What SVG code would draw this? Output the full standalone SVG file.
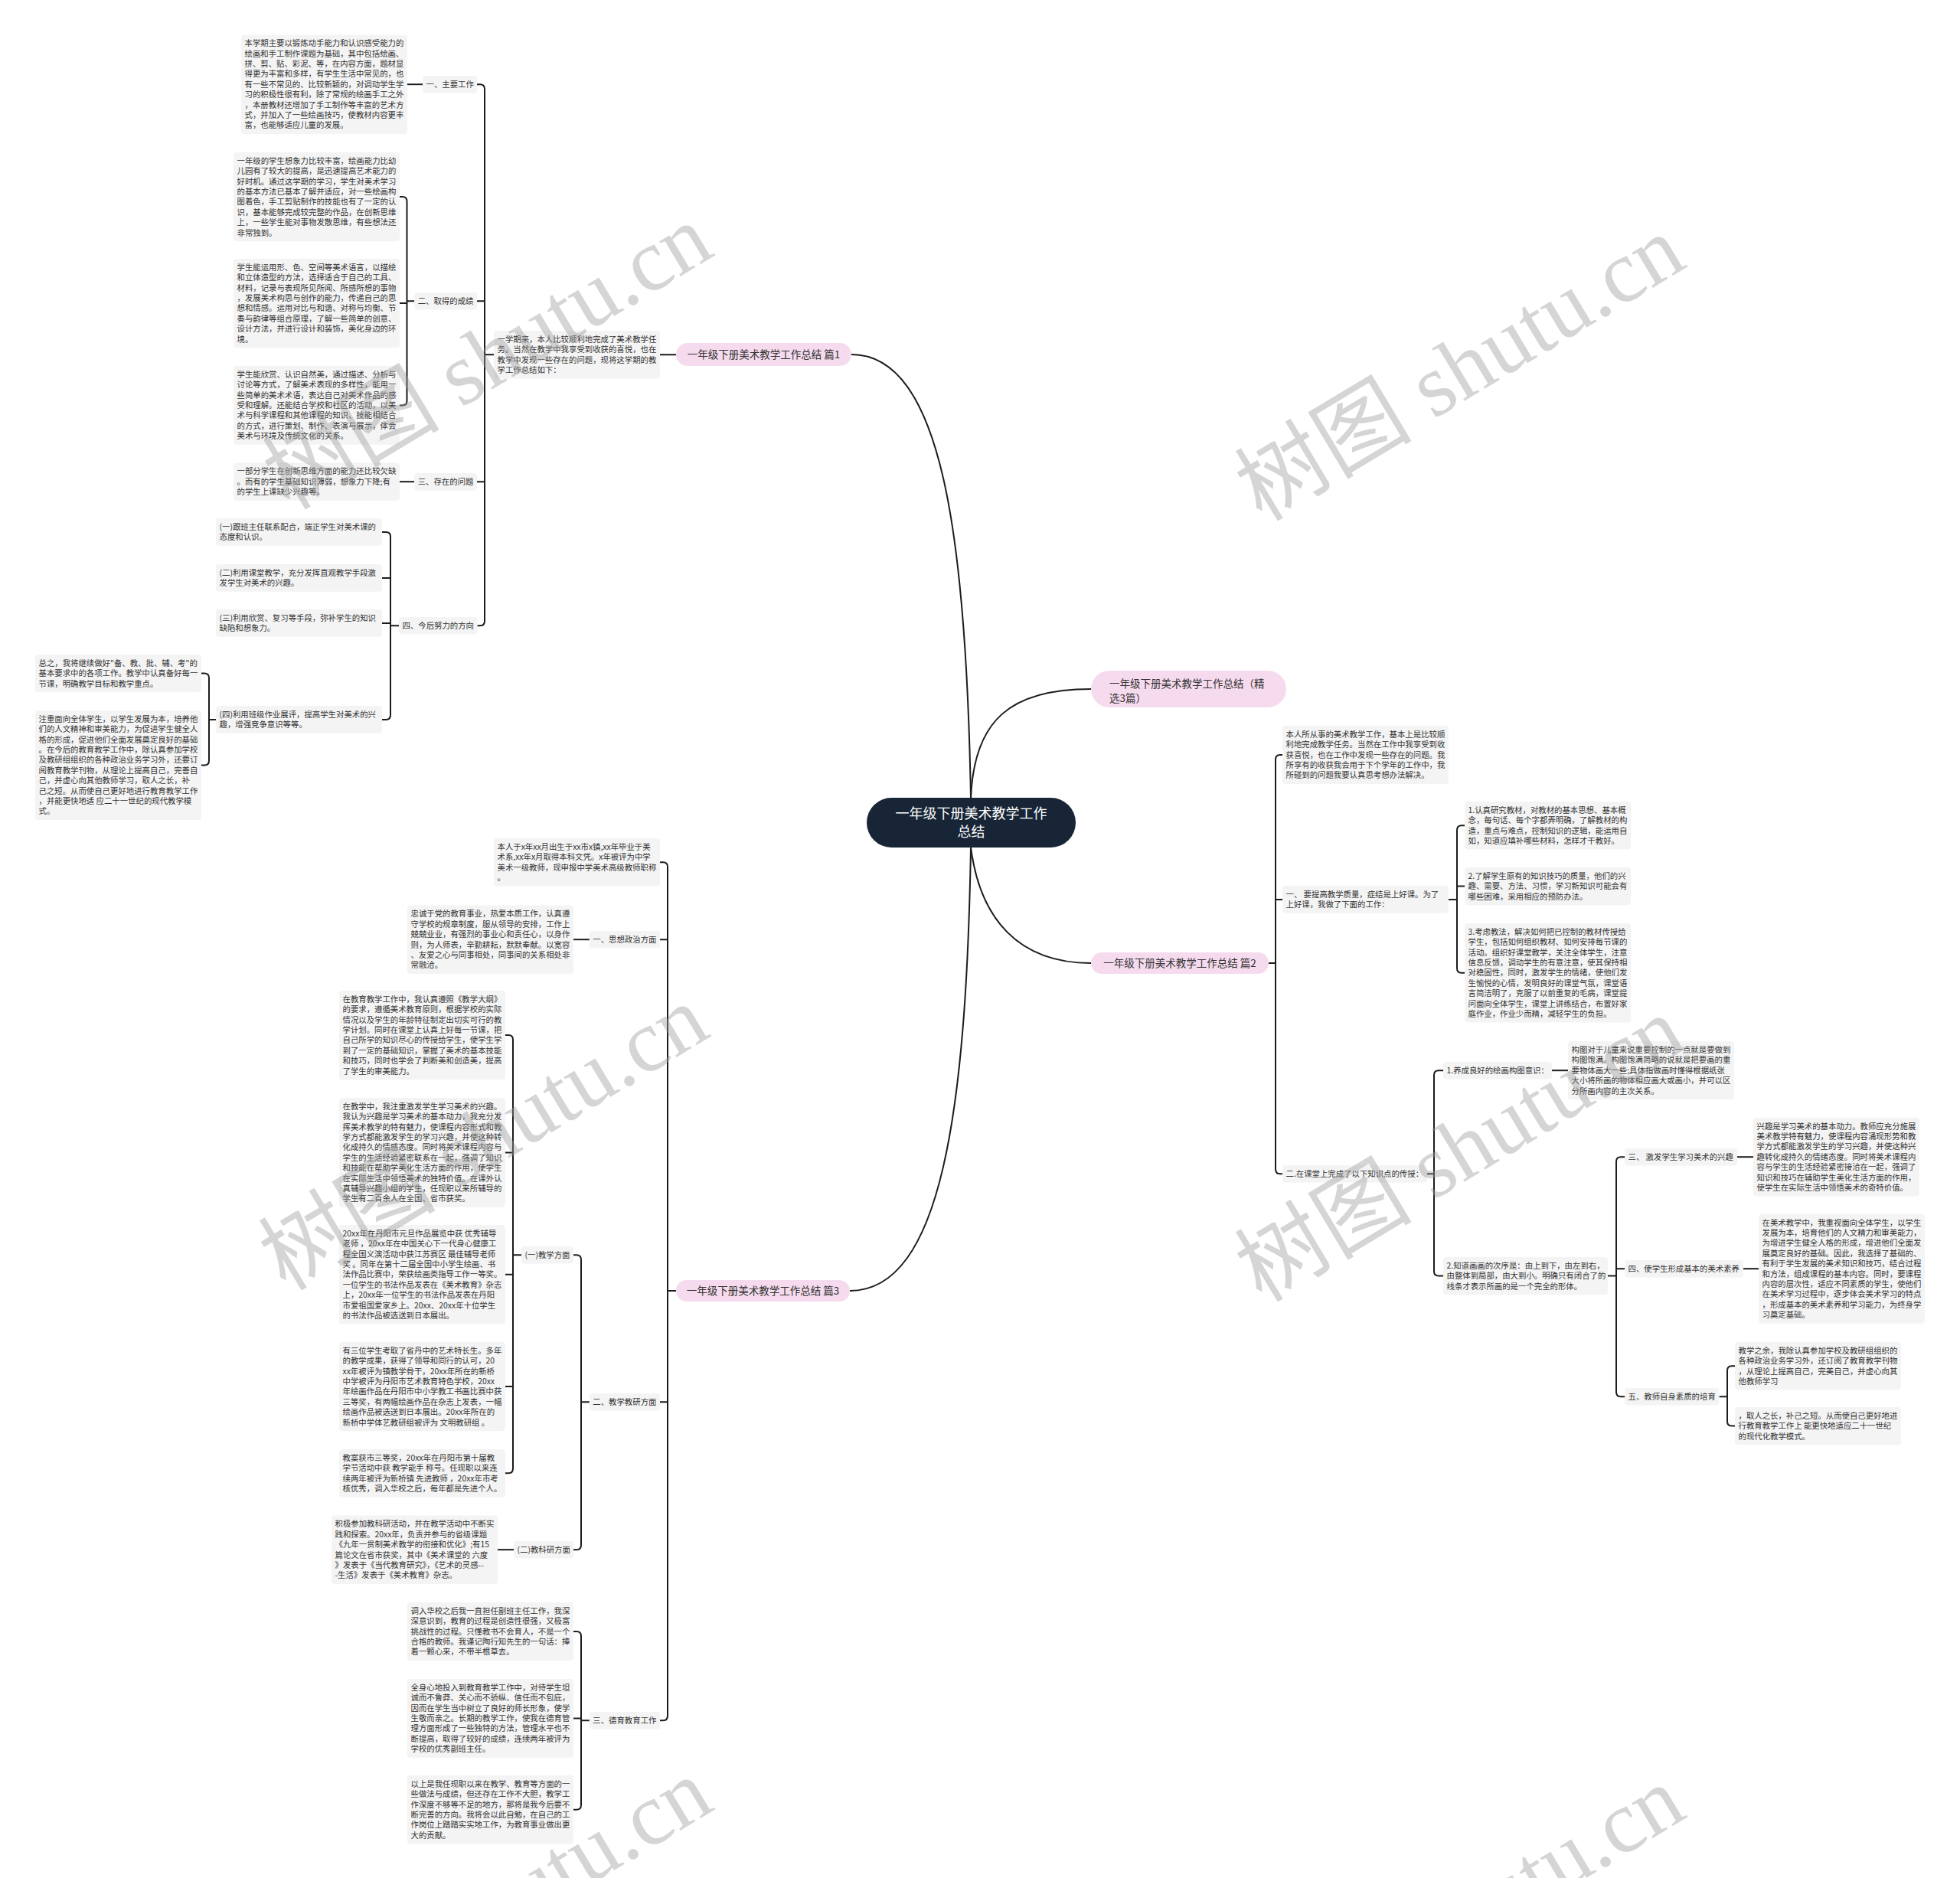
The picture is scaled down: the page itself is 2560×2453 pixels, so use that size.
<svg xmlns="http://www.w3.org/2000/svg" width="2560" height="2453" viewBox="0 0 2560 2453">
<style>
.t{font-family:"Noto Sans CJK SC","Liberation Sans",sans-serif;font-size:10.4px;fill:#333}
.b{fill:#f4f4f4}
.br{font-family:"Noto Sans CJK SC","Liberation Sans",sans-serif;font-size:13.5px;fill:#333}
.pk{fill:#f6dbee}
.ln{fill:none;stroke:#1c1c1c;stroke-width:2}
.wm{font-family:"Liberation Serif","Noto Sans CJK SC",serif;font-size:116px;fill:#9a9a9a;fill-opacity:0.42}
</style>
<rect width="2560" height="2453" fill="#ffffff"/>
<g id="connectors">
<path class="ln" d="M1268,1043 C1262,700 1230,463 1112,463"/>
<path class="ln" d="M1268,1107 C1262,1450 1230,1686 1110,1686"/>
<path class="ln" d="M1268,1043 C1272,940 1320,900 1425,900"/>
<path class="ln" d="M1268,1107 C1280,1200 1330,1258 1425,1258"/>
<path class="ln" d="M862,463.3 H883"/>
<path class="ln" d="M623,110.2 H627 Q633,110.2 633,116.2 V811.2 Q633,817.2 627,817.2 H623 M623,393.2 H633 M623,629.2 H633 M633,463.3 H645"/>
<path class="ln" d="M532,110.2 H552"/>
<path class="ln" d="M522,257.1 H525.5 Q531.5,257.1 531.5,263.1 V523.4 Q531.5,529.4 525.5,529.4 H522 M522,396.1 H531.5 M531.5,393.2 H541.2"/>
<path class="ln" d="M522,629.2 H541.2"/>
<path class="ln" d="M499,694.9 H504 Q510,694.9 510,700.9 V933.9 Q510,939.9 504,939.9 H499 M499,754.9 H510 M499,813.9 H510 M510,817.2 H521"/>
<path class="ln" d="M263,879.6 H267 Q273,879.6 273,885.6 V993.5 Q273,999.5 267,999.5 H263 M273,939.9 H282"/>
<path class="ln" d="M862,1126.3 H866 Q872,1126.3 872,1132.3 V2241.2 Q872,2247.2 866,2247.2 H862 M862,1227.2 H872 M862,1831.2 H872 M872,1686 H883"/>
<path class="ln" d="M749,1227.2 H770"/>
<path class="ln" d="M749,1639.2 H753 Q759,1639.2 759,1645.2 V2018.2 Q759,2024.2 753,2024.2 H749 M759,1831.2 H770"/>
<path class="ln" d="M660,1352.1 H664 Q670,1352.1 670,1358.1 V1918.3 Q670,1924.3 664,1924.3 H660 M660,1505.5 H670 M660,1664.8 H670 M660,1811.1 H670 M670,1639.2 H681"/>
<path class="ln" d="M650,2024.2 H671"/>
<path class="ln" d="M749,2131 H753 Q759,2131 759,2137 V2357.7 Q759,2363.7 753,2363.7 H749 M749,2244.4 H759 M759,2247.2 H770"/>
<path class="ln" d="M1675,986 H1672 Q1666,986 1666,992 V1527.2 Q1666,1533.2 1672,1533.2 H1675 M1666,1174.9 H1675 M1657,1258 H1666"/>
<path class="ln" d="M1913,1078.3 H1909 Q1903,1078.3 1903,1084.3 V1264.8 Q1903,1270.8 1909,1270.8 H1913 M1903,1157.6 H1913 M1892,1174.9 H1903"/>
<path class="ln" d="M1885,1398.2 H1879 Q1873,1398.2 1873,1404.2 V1660.6 Q1873,1666.6 1879,1666.6 H1885 M1864,1533.2 H1873"/>
<path class="ln" d="M2027,1398.2 H2048"/>
<path class="ln" d="M2122,1511.2 H2117 Q2111,1511.2 2111,1517.2 V1818.2 Q2111,1824.2 2117,1824.2 H2122 M2111,1657.2 H2122 M2100,1666.6 H2111"/>
<path class="ln" d="M2269,1511.2 H2290"/>
<path class="ln" d="M2277,1657.2 H2297"/>
<path class="ln" d="M2266,1784.3 H2262 Q2256,1784.3 2256,1790.3 V1856.6 Q2256,1862.6 2262,1862.6 H2266 M2245.4,1824.2 H2256"/>
</g>
<g id="root"><rect x="1132" y="1042" width="273" height="65" rx="32.5" fill="#172536"/><text x="1268.5" y="1069.3" text-anchor="middle" font-family="Noto Sans CJK SC, sans-serif" font-size="18" fill="#fff">一年级下册美术教学工作<tspan x="1268.5" dy="24">总结</tspan></text></g>
<g id="br1"><rect class="pk" x="883" y="448" width="229" height="30" rx="15"/><text class="br" x="997.5" y="467.7" text-anchor="middle">一年级下册美术教学工作总结 篇1</text></g>
<g id="br0"><rect class="pk" x="1425" y="876" width="255" height="48" rx="24"/><text class="br" x="1449" y="897.7">一年级下册美术教学工作总结（精<tspan x="1449" dy="19">选3篇）</tspan></text></g>
<g id="br2"><rect class="pk" x="1425" y="1244" width="232" height="28" rx="14"/><text class="br" x="1541" y="1262.7" text-anchor="middle">一年级下册美术教学工作总结 篇2</text></g>
<g id="br3"><rect class="pk" x="883" y="1672" width="227" height="28" rx="14"/><text class="br" x="996.5" y="1690.7" text-anchor="middle">一年级下册美术教学工作总结 篇3</text></g>

<g id="n1-intro"><rect class="b" x="645" y="432" width="217" height="62.6" rx="4"/><text class="t" x="649.5" y="446.8">一学期来，本人比较顺利地完成了美术教学任<tspan x="649.5" dy="13.4">务。当然在教学中我享受到收获的喜悦，也在</tspan><tspan x="649.5" dy="13.4">教学中发现一些存在的问题，现将这学期的教</tspan><tspan x="649.5" dy="13.4">学工作总结如下：</tspan></text></g>
<g id="n1-a"><rect class="b" x="552" y="99" width="71" height="22.4" rx="4"/><text class="t" x="556.5" y="113.8">一、主要工作</text></g>
<g id="n1-a1"><rect class="b" x="315" y="45.4" width="217" height="129.6" rx="4"/><text class="t" x="319.5" y="60.2">本学期主要以锻炼动手能力和认识感受能力的<tspan x="319.5" dy="13.4">绘画和手工制作课题为基础，其中包括绘画、</tspan><tspan x="319.5" dy="13.4">拼、剪、贴、彩泥、等，在内容方面，题材显</tspan><tspan x="319.5" dy="13.4">得更为丰富和多样，有学生生活中常见的，也</tspan><tspan x="319.5" dy="13.4">有一些不常见的、比较新颖的，对调动学生学</tspan><tspan x="319.5" dy="13.4">习的积极性很有利，除了常规的绘画手工之外</tspan><tspan x="319.5" dy="13.4">，本册教材还增加了手工制作等丰富的艺术方</tspan><tspan x="319.5" dy="13.4">式，并加入了一些绘画技巧，使教材内容更丰</tspan><tspan x="319.5" dy="13.4">富，也能够适应儿童的发展。</tspan></text></g>
<g id="n1-b"><rect class="b" x="541.2" y="382" width="81.8" height="22.4" rx="4"/><text class="t" x="545.7" y="396.8">二、取得的成绩</text></g>
<g id="n1-b1"><rect class="b" x="305" y="199" width="217" height="116.2" rx="4"/><text class="t" x="309.5" y="213.8">一年级的学生想象力比较丰富，绘画能力比幼<tspan x="309.5" dy="13.4">儿园有了较大的提高，是迅速提高艺术能力的</tspan><tspan x="309.5" dy="13.4">好时机。通过这学期的学习，学生对美术学习</tspan><tspan x="309.5" dy="13.4">的基本方法已基本了解并适应，对一些绘画构</tspan><tspan x="309.5" dy="13.4">图着色，手工剪贴制作的技能也有了一定的认</tspan><tspan x="309.5" dy="13.4">识，基本能够完成较完整的作品，在创新思维</tspan><tspan x="309.5" dy="13.4">上，一些学生能对事物发散思维，有些想法还</tspan><tspan x="309.5" dy="13.4">非常独到。</tspan></text></g>
<g id="n1-b2"><rect class="b" x="305" y="338" width="217" height="116.2" rx="4"/><text class="t" x="309.5" y="352.8">学生能运用形、色、空间等美术语言，以描绘<tspan x="309.5" dy="13.4">和立体造型的方法，选择适合于自己的工具、</tspan><tspan x="309.5" dy="13.4">材料，记录与表现所见所闻、所感所想的事物</tspan><tspan x="309.5" dy="13.4">，发展美术构思与创作的能力，传递自己的思</tspan><tspan x="309.5" dy="13.4">想和情感。运用对比与和谐、对称与均衡、节</tspan><tspan x="309.5" dy="13.4">奏与韵律等组合原理，了解一些简单的创意、</tspan><tspan x="309.5" dy="13.4">设计方法，并进行设计和装饰，美化身边的环</tspan><tspan x="309.5" dy="13.4">境。</tspan></text></g>
<g id="n1-b3"><rect class="b" x="305" y="478" width="217" height="102.8" rx="4"/><text class="t" x="309.5" y="492.8">学生能欣赏、认识自然美，通过描述、分析与<tspan x="309.5" dy="13.4">讨论等方式，了解美术表现的多样性，能用一</tspan><tspan x="309.5" dy="13.4">些简单的美术术语，表达自己对美术作品的感</tspan><tspan x="309.5" dy="13.4">受和理解。还能结合学校和社区的活动，以美</tspan><tspan x="309.5" dy="13.4">术与科学课程和其他课程的知识、技能相结合</tspan><tspan x="309.5" dy="13.4">的方式，进行策划、制作、表演与展示，体会</tspan><tspan x="309.5" dy="13.4">美术与环境及传统文化的关系。</tspan></text></g>
<g id="n1-c"><rect class="b" x="541.2" y="618" width="81.8" height="22.4" rx="4"/><text class="t" x="545.7" y="632.8">三、存在的问题</text></g>
<g id="n1-c1"><rect class="b" x="305" y="604.6" width="217" height="49.2" rx="4"/><text class="t" x="309.5" y="619.4">一部分学生在创新思维方面的能力还比较欠缺<tspan x="309.5" dy="13.4">。而有的学生基础知识薄弱，想象力下降;有</tspan><tspan x="309.5" dy="13.4">的学生上课缺少兴趣等。</tspan></text></g>
<g id="n1-d"><rect class="b" x="521" y="806" width="102.6" height="22.4" rx="4"/><text class="t" x="525.5" y="820.8">四、今后努力的方向</text></g>
<g id="n1-d1"><rect class="b" x="282" y="677" width="217" height="35.8" rx="4"/><text class="t" x="286.5" y="691.8">(一)跟班主任联系配合，端正学生对美术课的<tspan x="286.5" dy="13.4">态度和认识。</tspan></text></g>
<g id="n1-d2"><rect class="b" x="282" y="737" width="217" height="35.8" rx="4"/><text class="t" x="286.5" y="751.8">(二)利用课堂教学，充分发挥直观教学手段激<tspan x="286.5" dy="13.4">发学生对美术的兴趣。</tspan></text></g>
<g id="n1-d3"><rect class="b" x="282" y="796" width="217" height="35.8" rx="4"/><text class="t" x="286.5" y="810.8">(三)利用欣赏、复习等手段，弥补学生的知识<tspan x="286.5" dy="13.4">缺陷和想象力。</tspan></text></g>
<g id="n1-d4"><rect class="b" x="282" y="922" width="217" height="35.8" rx="4"/><text class="t" x="286.5" y="936.8">(四)利用班级作业展评，提高学生对美术的兴<tspan x="286.5" dy="13.4">趣，增强竞争意识等等。</tspan></text></g>
<g id="n1-e1"><rect class="b" x="46" y="855" width="217" height="49.2" rx="4"/><text class="t" x="50.5" y="869.8">总之，我将继续做好"备、教、批、辅、考"的<tspan x="50.5" dy="13.4">基本要求中的各项工作。教学中认真备好每一</tspan><tspan x="50.5" dy="13.4">节课，明确教学目标和教学重点。</tspan></text></g>
<g id="n1-e2"><rect class="b" x="46" y="928" width="217" height="143" rx="4"/><text class="t" x="50.5" y="942.8">注重面向全体学生，以学生发展为本，培养他<tspan x="50.5" dy="13.4">们的人文精神和审美能力，为促进学生健全人</tspan><tspan x="50.5" dy="13.4">格的形成，促进他们全面发展奠定良好的基础</tspan><tspan x="50.5" dy="13.4">。在今后的教育教学工作中，除认真参加学校</tspan><tspan x="50.5" dy="13.4">及教研组组织的各种政治业务学习外，还要订</tspan><tspan x="50.5" dy="13.4">阅教育教学刊物，从理论上提高自己，完善自</tspan><tspan x="50.5" dy="13.4">己，并虚心向其他教师学习，取人之长，补</tspan><tspan x="50.5" dy="13.4">己之短。从而使自己更好地进行教育教学工作</tspan><tspan x="50.5" dy="13.4">，并能更快地适 应二十一世纪的现代教学模</tspan><tspan x="50.5" dy="13.4">式。</tspan></text></g>

<g id="n3-intro"><rect class="b" x="645" y="1095" width="217" height="62.6" rx="4"/><text class="t" x="649.5" y="1109.8">本人于x年xx月出生于xx市x镇,xx年毕业于美<tspan x="649.5" dy="13.4">术系,xx年x月取得本科文凭。x年被评为中学</tspan><tspan x="649.5" dy="13.4">美术一级教师，现申报中学美术高级教师职称</tspan><tspan x="649.5" dy="13.4">。</tspan></text></g>
<g id="n3-a"><rect class="b" x="769.8" y="1216" width="92.2" height="22.4" rx="4"/><text class="t" x="774.3" y="1230.8">一、思想政治方面</text></g>
<g id="n3-a1"><rect class="b" x="532" y="1182.5" width="217" height="89.4" rx="4"/><text class="t" x="536.5" y="1197.3">忠诚于党的教育事业，热爱本质工作，认真遵<tspan x="536.5" dy="13.4">守学校的规章制度，服从领导的安排，工作上</tspan><tspan x="536.5" dy="13.4">兢兢业业，有强烈的事业心和责任心，以身作</tspan><tspan x="536.5" dy="13.4">则，为人师表，辛勤耕耘，默默奉献。以宽容</tspan><tspan x="536.5" dy="13.4">、友爱之心与同事相处，同事间的关系相处非</tspan><tspan x="536.5" dy="13.4">常融洽。</tspan></text></g>
<g id="n3-b"><rect class="b" x="769.8" y="1820" width="92.2" height="22.4" rx="4"/><text class="t" x="774.3" y="1834.8">二、教学教研方面</text></g>
<g id="n3-b1"><rect class="b" x="681" y="1628" width="68" height="22.4" rx="4"/><text class="t" x="685.5" y="1642.8">(一)教学方面</text></g>
<g id="n3-h1"><rect class="b" x="443" y="1294" width="217" height="116.2" rx="4"/><text class="t" x="447.5" y="1308.8">在教育教学工作中，我认真遵照《教学大纲》<tspan x="447.5" dy="13.4">的要求，遵循美术教育原则，根据学校的实际</tspan><tspan x="447.5" dy="13.4">情况以及学生的年龄特征制定出切实可行的教</tspan><tspan x="447.5" dy="13.4">学计划。同时在课堂上认真上好每一节课，把</tspan><tspan x="447.5" dy="13.4">自己所学的知识尽心的传授给学生，使学生学</tspan><tspan x="447.5" dy="13.4">到了一定的基础知识，掌握了美术的基本技能</tspan><tspan x="447.5" dy="13.4">和技巧，同时也学会了判断美和创造美，提高</tspan><tspan x="447.5" dy="13.4">了学生的审美能力。</tspan></text></g>
<g id="n3-h2"><rect class="b" x="443" y="1434" width="217" height="143" rx="4"/><text class="t" x="447.5" y="1448.8">在教学中，我注重激发学生学习美术的兴趣。<tspan x="447.5" dy="13.4">我认为兴趣是学习美术的基本动力，我充分发</tspan><tspan x="447.5" dy="13.4">挥美术教学的特有魅力，使课程内容形式和教</tspan><tspan x="447.5" dy="13.4">学方式都能激发学生的学习兴趣，并使这种转</tspan><tspan x="447.5" dy="13.4">化成持久的情感态度。同时将美术课程内容与</tspan><tspan x="447.5" dy="13.4">学生的生活经验紧密联系在一起，强调了知识</tspan><tspan x="447.5" dy="13.4">和技能在帮助学美化生活方面的作用，使学生</tspan><tspan x="447.5" dy="13.4">在实际生活中领悟美术的独特价值。在课外认</tspan><tspan x="447.5" dy="13.4">真辅导兴趣小组的学生，任现职以来所辅导的</tspan><tspan x="447.5" dy="13.4">学生有二百余人在全国、省市获奖。</tspan></text></g>
<g id="n3-h3"><rect class="b" x="443" y="1600" width="217" height="129.6" rx="4"/><text class="t" x="447.5" y="1614.8">20xx年在丹阳市元旦作品展览中获 优秀辅导<tspan x="447.5" dy="13.4">老师 ，20xx年在中国关心下一代身心健康工</tspan><tspan x="447.5" dy="13.4">程全国义演活动中获江苏赛区 最佳辅导老师</tspan><tspan x="447.5" dy="13.4">奖 。同年在第十二届全国中小学生绘画、书</tspan><tspan x="447.5" dy="13.4">法作品比赛中，荣获绘画类指导工作一等奖。</tspan><tspan x="447.5" dy="13.4">一位学生的书法作品发表在《美术教育》杂志</tspan><tspan x="447.5" dy="13.4">上，20xx年一位学生的书法作品发表在丹阳</tspan><tspan x="447.5" dy="13.4">市爱祖国爱家乡上。20xx、20xx年十位学生</tspan><tspan x="447.5" dy="13.4">的书法作品被选送到日本展出。</tspan></text></g>
<g id="n3-h4"><rect class="b" x="443" y="1753" width="217" height="116.2" rx="4"/><text class="t" x="447.5" y="1767.8">有三位学生考取了省丹中的艺术特长生。多年<tspan x="447.5" dy="13.4">的教学成果，获得了领导和同行的认可，20</tspan><tspan x="447.5" dy="13.4">xx年被评为镇教学骨干，20xx年所在的新桥</tspan><tspan x="447.5" dy="13.4">中学被评为丹阳市艺术教育特色学校，20xx</tspan><tspan x="447.5" dy="13.4">年绘画作品在丹阳市中小学教工书画比赛中获</tspan><tspan x="447.5" dy="13.4">三等奖，有两幅绘画作品在杂志上发表，一幅</tspan><tspan x="447.5" dy="13.4">绘画作品被选送到日本展出。20xx年所在的</tspan><tspan x="447.5" dy="13.4">新桥中学体艺教研组被评为 文明教研组 。</tspan></text></g>
<g id="n3-h5"><rect class="b" x="443" y="1893" width="217" height="62.6" rx="4"/><text class="t" x="447.5" y="1907.8">教案获市三等奖，20xx年在丹阳市第十届教<tspan x="447.5" dy="13.4">学节活动中获 教学能手 称号。任现职以来连</tspan><tspan x="447.5" dy="13.4">续两年被评为新桥镇 先进教师 ，20xx年市考</tspan><tspan x="447.5" dy="13.4">核优秀，调入华校之后，每年都是先进个人。</tspan></text></g>
<g id="n3-b2"><rect class="b" x="671" y="2013" width="78" height="22.4" rx="4"/><text class="t" x="675.5" y="2027.8">(二)教科研方面</text></g>
<g id="n3-i1"><rect class="b" x="433" y="1979.5" width="217" height="89.4" rx="4"/><text class="t" x="437.5" y="1994.3">积极参加教科研活动，并在教学活动中不断实<tspan x="437.5" dy="13.4">践和探索。20xx年，负责并参与的省级课题</tspan><tspan x="437.5" dy="13.4">《九年一贯制美术教学的衔接和优化》;有15</tspan><tspan x="437.5" dy="13.4">篇论文在省市获奖，其中《美术课堂的 六度</tspan><tspan x="437.5" dy="13.4">》发表于《当代教育研究》，《艺术的灵感--</tspan><tspan x="437.5" dy="13.4">-生活》发表于《美术教育》杂志。</tspan></text></g>
<g id="n3-c"><rect class="b" x="769.8" y="2236" width="92.2" height="22.4" rx="4"/><text class="t" x="774.3" y="2250.8">三、德育教育工作</text></g>
<g id="n3-j1"><rect class="b" x="532" y="2093" width="217" height="76" rx="4"/><text class="t" x="536.5" y="2107.8">调入华校之后我一直担任副班主任工作，我深<tspan x="536.5" dy="13.4">深意识到，教育的过程是创造性很强，又极富</tspan><tspan x="536.5" dy="13.4">挑战性的过程。只懂教书不会育人，不是一个</tspan><tspan x="536.5" dy="13.4">合格的教师。我谨记陶行知先生的一句话：捧</tspan><tspan x="536.5" dy="13.4">着一颗心来，不带半根草去。</tspan></text></g>
<g id="n3-j2"><rect class="b" x="532" y="2193" width="217" height="102.8" rx="4"/><text class="t" x="536.5" y="2207.8">全身心地投入到教育教学工作中，对待学生坦<tspan x="536.5" dy="13.4">诚而不鲁莽、关心而不骄纵、信任而不包庇，</tspan><tspan x="536.5" dy="13.4">因而在学生当中树立了良好的师长形象，使学</tspan><tspan x="536.5" dy="13.4">生敬而亲之。长期的教学工作，使我在德育管</tspan><tspan x="536.5" dy="13.4">理方面形成了一些独特的方法，管理水平也不</tspan><tspan x="536.5" dy="13.4">断提高，取得了较好的成绩，连续两年被评为</tspan><tspan x="536.5" dy="13.4">学校的优秀副班主任。</tspan></text></g>
<g id="n3-j3"><rect class="b" x="532" y="2319" width="217" height="89.4" rx="4"/><text class="t" x="536.5" y="2333.8">以上是我任现职以来在教学、教育等方面的一<tspan x="536.5" dy="13.4">些做法与成绩，但还存在工作不大胆，教学工</tspan><tspan x="536.5" dy="13.4">作深度不够等不足的地方，那将是我今后要不</tspan><tspan x="536.5" dy="13.4">断完善的方向。我将会以此自勉，在自己的工</tspan><tspan x="536.5" dy="13.4">作岗位上踏踏实实地工作，为教育事业做出更</tspan><tspan x="536.5" dy="13.4">大的贡献。</tspan></text></g>

<g id="n2-intro"><rect class="b" x="1675" y="948" width="217" height="76" rx="4"/><text class="t" x="1679.5" y="962.8">本人所从事的美术教学工作，基本上是比较顺<tspan x="1679.5" dy="13.4">利地完成教学任务。当然在工作中我享受到收</tspan><tspan x="1679.5" dy="13.4">获喜悦，也在工作中发现一些存在的问题。我</tspan><tspan x="1679.5" dy="13.4">所享有的收获我会用于下个学年的工作中，我</tspan><tspan x="1679.5" dy="13.4">所碰到的问题我要认真思考想办法解决。</tspan></text></g>
<g id="n2-a"><rect class="b" x="1675" y="1157" width="217" height="35.8" rx="4"/><text class="t" x="1679.5" y="1171.8">一、 要提高教学质量，症结是上好课。为了<tspan x="1679.5" dy="13.4">上好课，我做了下面的工作：</tspan></text></g>
<g id="n2-l1"><rect class="b" x="1913" y="1047" width="217" height="62.6" rx="4"/><text class="t" x="1917.5" y="1061.8">1.认真研究教材，对教材的基本思想、基本概<tspan x="1917.5" dy="13.4">念，每句话、每个字都弄明确，了解教材的构</tspan><tspan x="1917.5" dy="13.4">造，重点与难点，控制知识的逻辑，能运用自</tspan><tspan x="1917.5" dy="13.4">如，知道应填补哪些材料，怎样才干教好。</tspan></text></g>
<g id="n2-l2"><rect class="b" x="1913" y="1133" width="217" height="49.2" rx="4"/><text class="t" x="1917.5" y="1147.8">2.了解学生原有的知识技巧的质量，他们的兴<tspan x="1917.5" dy="13.4">趣、需要、方法、习惯，学习新知识可能会有</tspan><tspan x="1917.5" dy="13.4">哪些困难，采用相应的预防办法。</tspan></text></g>
<g id="n2-l3"><rect class="b" x="1913" y="1206" width="217" height="129.6" rx="4"/><text class="t" x="1917.5" y="1220.8">3.考虑教法，解决如何把已控制的教材传授给<tspan x="1917.5" dy="13.4">学生，包括如何组织教材、如何安排每节课的</tspan><tspan x="1917.5" dy="13.4">活动。组织好课堂教学，关注全体学生，注意</tspan><tspan x="1917.5" dy="13.4">信息反馈，调动学生的有意注意，使其保持相</tspan><tspan x="1917.5" dy="13.4">对稳固性，同时，激发学生的情绪，使他们发</tspan><tspan x="1917.5" dy="13.4">生愉悦的心情，发明良好的课堂气氛，课堂语</tspan><tspan x="1917.5" dy="13.4">言简洁明了，克服了以前重复的毛病，课堂提</tspan><tspan x="1917.5" dy="13.4">问面向全体学生，课堂上讲练结合，布置好家</tspan><tspan x="1917.5" dy="13.4">庭作业，作业少而精，减轻学生的负担。</tspan></text></g>
<g id="n2-b"><rect class="b" x="1675" y="1522" width="189" height="22.4" rx="4"/><text class="t" x="1679.5" y="1536.8">二.在课堂上完成了以下知识点的传授：</text></g>
<g id="n2-m1"><rect class="b" x="1885" y="1387" width="142" height="22.4" rx="4"/><text class="t" x="1889.5" y="1401.8">1.养成良好的绘画构图意识：</text></g>
<g id="n2-n1"><rect class="b" x="2048" y="1360.2" width="217" height="76" rx="4"/><text class="t" x="2052.5" y="1375">构图对于儿童来说重要控制的一点就是要做到<tspan x="2052.5" dy="13.4">构图饱满。构图饱满简略的说就是把要画的重</tspan><tspan x="2052.5" dy="13.4">要物体画大一些;具体指做画时懂得根据纸张</tspan><tspan x="2052.5" dy="13.4">大小将所画的物体相应画大或画小，并可以区</tspan><tspan x="2052.5" dy="13.4">分所画内容的主次关系。</tspan></text></g>
<g id="n2-m2"><rect class="b" x="1885" y="1642" width="215" height="49.2" rx="4"/><text class="t" x="1889.5" y="1656.8">2.知道画画的次序是：由上到下，由左到右，<tspan x="1889.5" dy="13.4">由整体到局部，由大到小。明确只有闭合了的</tspan><tspan x="1889.5" dy="13.4">线条才表示所画的是一个完全的形体。</tspan></text></g>
<g id="n2-o1"><rect class="b" x="2122" y="1500" width="147" height="22.4" rx="4"/><text class="t" x="2126.5" y="1514.8">三、 激发学生学习美术的兴趣</text></g>
<g id="n2-p1"><rect class="b" x="2290" y="1459.8" width="217" height="102.8" rx="4"/><text class="t" x="2294.5" y="1474.6">兴趣是学习美术的基本动力。教师应充分施展<tspan x="2294.5" dy="13.4">美术教学特有魅力，使课程内容涌现形势和教</tspan><tspan x="2294.5" dy="13.4">学方式都能激发学生的学习兴趣，并使这种兴</tspan><tspan x="2294.5" dy="13.4">趣转化成持久的情绪态度。同时将美术课程内</tspan><tspan x="2294.5" dy="13.4">容与学生的生活经验紧密接洽在一起，强调了</tspan><tspan x="2294.5" dy="13.4">知识和技巧在辅助学生美化生活方面的作用，</tspan><tspan x="2294.5" dy="13.4">使学生在实际生活中领悟美术的奇特价值。</tspan></text></g>
<g id="n2-o2"><rect class="b" x="2122" y="1646" width="155" height="22.4" rx="4"/><text class="t" x="2126.5" y="1660.8">四、使学生形成基本的美术素养</text></g>
<g id="n2-p2"><rect class="b" x="2297" y="1585.7" width="217" height="143" rx="4"/><text class="t" x="2301.5" y="1600.5">在美术教学中，我重视面向全体学生，以学生<tspan x="2301.5" dy="13.4">发展为本，培育他们的人文精力和审美能力，</tspan><tspan x="2301.5" dy="13.4">为增进学生健全人格的形成，增进他们全面发</tspan><tspan x="2301.5" dy="13.4">展奠定良好的基础。因此，我选择了基础的、</tspan><tspan x="2301.5" dy="13.4">有利于学生发展的美术知识和技巧，结合过程</tspan><tspan x="2301.5" dy="13.4">和方法，组成课程的基本内容。同时，要课程</tspan><tspan x="2301.5" dy="13.4">内容的层次性，适应不同素质的学生，使他们</tspan><tspan x="2301.5" dy="13.4">在美术学习过程中，逐步体会美术学习的特点</tspan><tspan x="2301.5" dy="13.4">，形成基本的美术素养和学习能力，为终身学</tspan><tspan x="2301.5" dy="13.4">习奠定基础。</tspan></text></g>
<g id="n2-o3"><rect class="b" x="2122" y="1813" width="123.4" height="22.4" rx="4"/><text class="t" x="2126.5" y="1827.8">五、教师自身素质的培育</text></g>
<g id="n2-q1"><rect class="b" x="2266" y="1753" width="217" height="62.6" rx="4"/><text class="t" x="2270.5" y="1767.8">教学之余，我除认真参加学校及教研组组织的<tspan x="2270.5" dy="13.4">各种政治业务学习外，还订阅了教育教学刊物</tspan><tspan x="2270.5" dy="13.4">，从理论上提高自己，完美自己，并虚心向其</tspan><tspan x="2270.5" dy="13.4">他教师学习</tspan></text></g>
<g id="n2-q2"><rect class="b" x="2266" y="1838" width="217" height="49.2" rx="4"/><text class="t" x="2270.5" y="1852.8">，取人之长，补己之短。从而使自己更好地进<tspan x="2270.5" dy="13.4">行教育教学工作上 能更快地适应二十一世纪</tspan><tspan x="2270.5" dy="13.4">的现代化教学模式。</tspan></text></g>

<g id="watermark" class="wm" text-anchor="middle">
<text transform="translate(657,500) rotate(-31)">树图 shutu.cn</text>
<text transform="translate(1927,515) rotate(-31)">树图 shutu.cn</text>
<text transform="translate(652,1520) rotate(-31)">树图 shutu.cn</text>
<text transform="translate(1927,1535) rotate(-31)">树图 shutu.cn</text>
<text transform="translate(657,2530) rotate(-31)">树图 shutu.cn</text>
<text transform="translate(1927,2540) rotate(-31)">树图 shutu.cn</text>
</g>
</svg>
